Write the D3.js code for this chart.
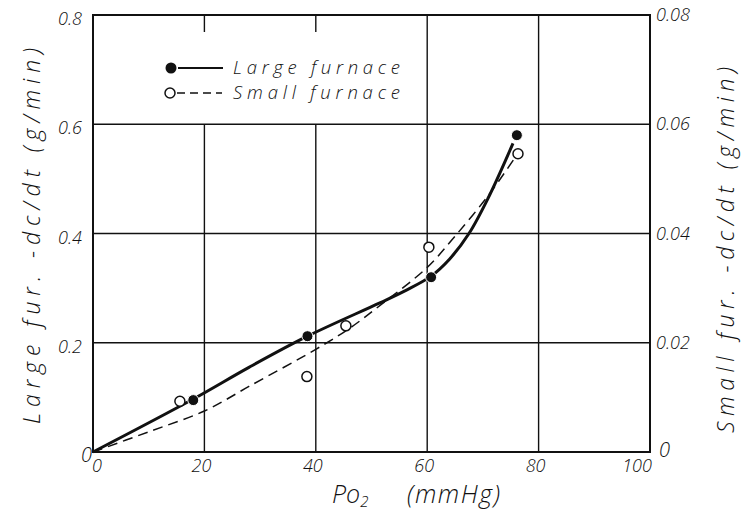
<!DOCTYPE html>
<html><head><meta charset="utf-8">
<script src="https://cdn.jsdelivr.net/npm/d3@7"></script>
<style>
body{margin:0;background:#fff;}
svg text{font-family:"Open Sans",Roboto,"Liberation Sans",sans-serif;font-style:italic;font-weight:300;fill:#111;}
</style></head>
<body><svg id="c" width="741" height="510"></svg>
<script>
// ---- data ----
const xTicks = [0, 20, 40, 60, 80, 100];
const yLeftTicks = [0, 0.2, 0.4, 0.6, 0.8];
const yRightTicks = [0, 0.02, 0.04, 0.06, 0.08];
const yLeftLabels = ["0", "0.2", "0.4", "0.6", "0.8"];
const yRightLabels = ["0", "0.02", "0.04", "0.06", "0.08"];
// measured points
const largePo2 = [18, 38.5, 60.7, 76.1];
const largeRate = [0.095, 0.212, 0.32, 0.58];
const smallPo2 = [15.6, 38.4, 45.4, 60.3, 76.3];
const smallRate = [0.0093, 0.0138, 0.0231, 0.0375, 0.0546];
// fitted curves
const largeFitPo2 = [0, 18, 28, 38.5, 51.5, 56, 60.7, 64, 67.5, 70.9, 75.4];
const largeFitRate = [0, 0.097, 0.155, 0.212, 0.273, 0.295, 0.322, 0.353, 0.4, 0.464, 0.565];
const smallFitPo2 = [0, 10, 20, 28, 40, 46, 52, 60, 65, 71, 75.5];
const smallFitRate = [0, 0.0037, 0.0075, 0.012, 0.0188, 0.0226, 0.0272, 0.0338, 0.0395, 0.047, 0.0535];
const legendNames = ["Large furnace", "Small furnace"];

// ---- layout ----
const svg = d3.select("#c");
const L = 93, R = 650, T = 15, B = 452;
const x = d3.scaleLinear().domain([0, 100]).range([L, R]);
const yL = d3.scaleLinear().domain([0, 0.8]).range([B, T]);
const yR = d3.scaleLinear().domain([0, 0.08]).range([B, T]);

const g = svg.append("g");
// grid: horizontal
g.selectAll(".hg").data(yLeftTicks.slice(1, 4)).enter().append("line")
  .attr("x1", L).attr("x2", R).attr("y1", d => yL(d)).attr("y2", d => yL(d))
  .attr("stroke", "#111").attr("stroke-width", 1.4);
// grid: vertical (20, 40 stop at 0.6; 60, 80 full)
g.selectAll(".vg").data(xTicks.slice(1, 5)).enter().append("line")
  .attr("x1", d => x(d)).attr("x2", d => x(d))
  .attr("y1", B).attr("y2", d => d < 50 ? yL(0.6) : T)
  .attr("stroke", "#111").attr("stroke-width", 1.4);
// small top ticks at 20, 40
g.selectAll(".tt").data([20, 40]).enter().append("line")
  .attr("x1", d => x(d)).attr("x2", d => x(d)).attr("y1", T).attr("y2", T + 17)
  .attr("stroke", "#111").attr("stroke-width", 1.4);
// frame
g.append("rect").attr("x", L).attr("y", T).attr("width", R - L).attr("height", B - T)
  .attr("fill", "none").attr("stroke", "#111").attr("stroke-width", 2);

// tick labels
const fs = 18;
g.selectAll(".xl").data(xTicks).enter().append("text")
  .attr("x", (d, i) => i === 0 ? x(d) + 4 : (i === 5 ? x(d) - 13 : x(d) - 3))
  .attr("y", 472).attr("text-anchor", "middle").attr("font-size", fs)
  .text(d => d);
g.selectAll(".yl").data(yLeftTicks).enter().append("text")
  .attr("x", (d, i) => i === 0 ? 92 : 82).attr("y", d => yL(d) + 10)
  .attr("text-anchor", "end").attr("font-size", d => d === 0 ? 20 : fs)
  .text((d, i) => yLeftLabels[i]);
g.selectAll(".yr").data(yRightTicks).enter().append("text")
  .attr("x", (d, i) => i === 0 ? 659 : 656).attr("y", (d, i) => i === 0 ? yR(d) + 5 : yR(d) + 6)
  .attr("text-anchor", "start").attr("font-size", d => d === 0 ? 20 : fs)
  .text((d, i) => yRightLabels[i]);

// axis titles
svg.append("text").attr("transform", "translate(40,236) rotate(-90)")
  .attr("text-anchor", "middle").attr("font-size", 23)
  .attr("textLength", 376).attr("lengthAdjust", "spacing")
  .text("Large fur. -dc/dt (g/min)");
svg.append("text").attr("transform", "translate(734,250) rotate(-90)")
  .attr("text-anchor", "middle").attr("font-size", 23)
  .attr("textLength", 366).attr("lengthAdjust", "spacing")
  .text("Small fur. -dc/dt (g/min)");
const xt = svg.append("text").attr("x", 332).attr("y", 503).attr("font-size", 25);
xt.append("tspan").text("Po");
xt.append("tspan").attr("font-size", 15).attr("dy", 4).text("2");
xt.append("tspan").attr("x", 407).attr("dy", -4).attr("letter-spacing", 1.5).text("(mmHg)");

// curves
const line = d3.line().curve(d3.curveCatmullRom.alpha(0.5));
g.append("path")
  .attr("d", line(largeFitPo2.map((d, i) => [x(d), yL(largeFitRate[i])])))
  .attr("fill", "none").attr("stroke", "#111").attr("stroke-width", 3);
g.append("path")
  .attr("d", line(smallFitPo2.map((d, i) => [x(d), yR(smallFitRate[i])])))
  .attr("fill", "none").attr("stroke", "#111").attr("stroke-width", 1.5)
  .attr("stroke-dasharray", "10,6");

// points
g.selectAll(".lp").data(largePo2).enter().append("circle")
  .attr("cx", d => x(d)).attr("cy", (d, i) => yL(largeRate[i])).attr("r", 5.5)
  .attr("fill", "#111").attr("stroke", "#fff").attr("stroke-width", 1);
g.selectAll(".sp").data(smallPo2).enter().append("circle")
  .attr("cx", d => x(d)).attr("cy", (d, i) => yR(smallRate[i])).attr("r", 5)
  .attr("fill", "#fff").attr("stroke", "#111").attr("stroke-width", 1.5);

// legend
const lg = svg.append("g");
lg.append("circle").attr("cx", 171).attr("cy", 68).attr("r", 5.5).attr("fill", "#111");
lg.append("line").attr("x1", 178).attr("x2", 223).attr("y1", 68).attr("y2", 68)
  .attr("stroke", "#111").attr("stroke-width", 2.2);
lg.append("circle").attr("cx", 170).attr("cy", 93).attr("r", 5).attr("fill", "#fff")
  .attr("stroke", "#111").attr("stroke-width", 1.5);
lg.append("line").attr("x1", 177).attr("x2", 222).attr("y1", 93).attr("y2", 93)
  .attr("stroke", "#111").attr("stroke-width", 1.5).attr("stroke-dasharray", "8,5");
lg.selectAll(".lt").data(legendNames).enter().append("text")
  .attr("x", 233).attr("y", (d, i) => 74 + i * 25).attr("font-size", 18.5)
  .attr("textLength", 167).attr("lengthAdjust", "spacing").text(d => d);
</script></body></html>
